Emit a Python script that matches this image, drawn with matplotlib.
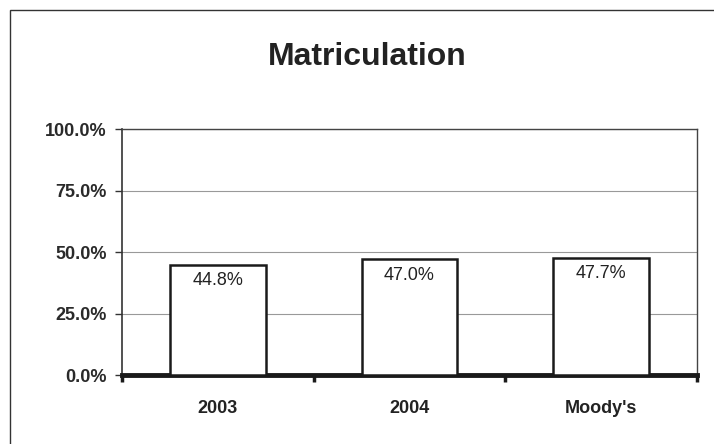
import matplotlib
matplotlib.use("Agg")
import matplotlib.pyplot as plt
from matplotlib.patches import Rectangle
import numpy as np

plt.rcParams['font.family'] = ['Liberation Sans', 'DejaVu Sans']

categories = ["2003", "2004", "Moody's"]
values = [44.8, 47.0, 47.7]
yticks = [0, 25, 50, 75, 100]

fig = plt.figure(figsize=(7.14, 4.44), dpi=100)
# outer frame
fig.add_artist(Rectangle((10/714, -0.1), 2, 1.1 - 10/444, transform=fig.transFigure,
                         fill=False, edgecolor='#333333', linewidth=1.0))

ax = fig.add_axes([122/714, 69/444, 575/714, 246/444])
x = np.arange(len(categories))
ax.bar(x, values, width=0.5, color='white', edgecolor='#1a1a1a', linewidth=1.8, zorder=3)
for xi, v in zip(x, values):
    ax.text(xi, v - 3.0, f"{v:.1f}%", ha='center', va='top', fontsize=13, color='#222222', zorder=4)

ax.set_xlim(-0.5, len(categories) - 0.5)
ax.set_ylim(0, 100)
ax.set_yticks(yticks)
ax.set_yticklabels([f"{t:.1f}%" for t in yticks], fontsize=13, fontweight='bold', color='#2a2a2a')
ax.yaxis.grid(True, color='#999999', linewidth=0.8)
ax.set_axisbelow(True)

ax.set_xticks(x)
ax.set_xticklabels(categories, fontsize=13, fontweight='bold', color='#222222')
ax.tick_params(axis='x', length=0, pad=18)
ax.set_xticks(np.arange(-0.5, len(categories)), minor=True)
ax.tick_params(axis='x', which='minor', length=5, width=2.5, color='#1a1a1a')
ax.tick_params(axis='y', length=5, width=1, color='#333333', pad=6)

for s in ['top', 'right']:
    ax.spines[s].set_color('#444444')
    ax.spines[s].set_linewidth(1.0)
ax.spines['left'].set_color('#333333')
ax.spines['left'].set_linewidth(1.2)
ax.spines['bottom'].set_color('#1a1a1a')
ax.spines['bottom'].set_linewidth(3.5)

fig.text(367/714, 1 - 57/444, "Matriculation", ha='center', va='center',
         fontsize=23, fontweight='bold', color='#222222')

fig.savefig("out.png", dpi=100)
